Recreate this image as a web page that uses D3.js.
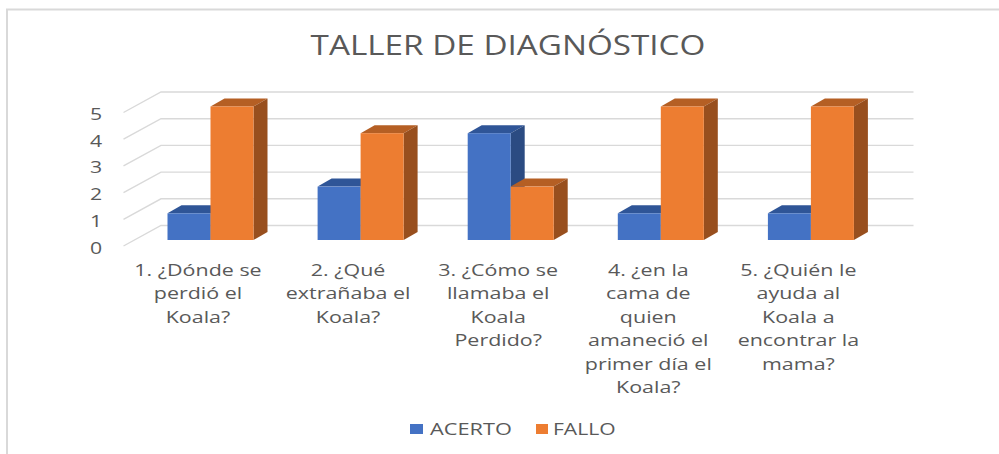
<!DOCTYPE html>
<html><head><meta charset="utf-8"><style>html,body{margin:0;padding:0;background:#fff}svg{display:block}text{font-family:"Open Sans","DejaVu Sans",sans-serif}</style>
<script src="https://cdn.jsdelivr.net/npm/d3@7"></script></head><body><svg id="c" width="999" height="454"></svg>
<script>
const categories=[["1. ¿Dónde se","perdió el","Koala?"],["2. ¿Qué","extrañaba el","Koala?"],["3. ¿Cómo se","llamaba el","Koala","Perdido?"],["4. ¿en la","cama de","quien","amaneció el","primer día el","Koala?"],["5. ¿Quién le","ayuda al","Koala a","encontrar la","mama?"]];
const acerto=[1,2,4,1,1];
const fallo=[5,4,2,5,5];
const ticks=[0,1,2,3,4,5];
const svg=d3.select("#c");
const y=d3.scaleLinear().domain([0,5]).range([240,106.5]);
const x=d3.scaleBand().domain(d3.range(5)).range([142.5,893]);
const bw=43, dx=14, dy=-8;
const grid="#d9d9d9", ink="#595959";
function label(tx,ty,anchor,size,sx,s){
 return svg.append("text").attr("transform",`translate(${tx},${ty}) scale(${sx},1)`).attr("text-anchor",anchor).attr("font-size",size).attr("fill",ink).text(s);
}
svg.append("path").attr("d","M7,454V9.5H999").attr("fill","none").attr("stroke",grid).attr("stroke-width",2);
ticks.forEach(t=>{const p=y(t)+6;
 svg.append("path").attr("d",`M123.5,${p}L161,${p-20.5}H913.5`).attr("fill","none").attr("stroke",grid).attr("stroke-width",1.4);
 label(96,p+7.5,"middle",17,1.25,t);
});
function bar(i,v,col,top,side,off){
 const x0=x(i)+25+off, x1=x0+bw, yt=y(v), yb=y(0);
 const g=svg.append("g");
 g.append("polygon").attr("points",`${x0},${yt} ${x0+dx},${yt+dy} ${x1+dx},${yt+dy} ${x1},${yt}`).attr("fill",top);
 g.append("polygon").attr("points",`${x1},${yt} ${x1+dx},${yt+dy} ${x1+dx},${yb+dy} ${x1},${yb}`).attr("fill",side);
 g.append("rect").attr("x",x0).attr("y",yt).attr("width",bw).attr("height",yb-yt).attr("fill",col);
}
d3.range(5).forEach(i=>{
 bar(i,acerto[i],"#4472c4","#2f5597","#2b4b82",0);
 bar(i,fallo[i],"#ed7d31","#b55f24","#984f1e",bw);
});
label(508,55,"middle",28,1.187,"TALLER DE DIAGNÓSTICO");
categories.forEach((ls,i)=>{
 const cx=x(i)+25+bw-12.5;
 ls.forEach((l,k)=>label(cx,276+k*23.4,"middle",16.5,1.3,l));
});
svg.append("rect").attr("x",410).attr("y",424).attr("width",13).attr("height",10).attr("fill","#4472c4");
label(430,435,"start",17,1.28,"ACERTO");
svg.append("rect").attr("x",536).attr("y",424).attr("width",12).attr("height",10).attr("fill","#ed7d31");
label(553,435,"start",17,1.24,"FALLO");
</script></body></html>
